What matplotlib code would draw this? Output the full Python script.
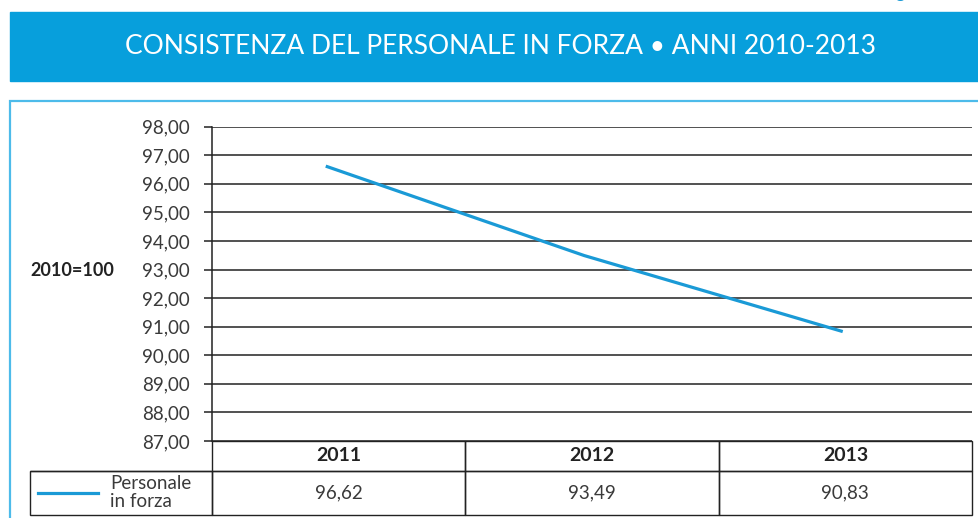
#!/usr/bin/env python3
"""
plot.py — consistenza del personale in forza, indice 2010=100
"""

import matplotlib
matplotlib.use('Agg')
import matplotlib.pyplot as plt
from matplotlib.patches import Rectangle
from matplotlib.ticker import FuncFormatter, MultipleLocator

# dati
YEARS = ['2011', '2012', '2013']
PERSONALE = [96.62, 93.49, 90.83]
SERIES_LABEL = 'Personale\nin forza'
TITLE = 'CONSISTENZA DEL PERSONALE IN FORZA \u2022 ANNI 2010-2013'
Y_LABEL = '2010=100'
Y_MIN, Y_MAX = 87, 98

BLUE_BANNER = '#079fdc'
BLUE_FRAME = '#4dbbea'
BLUE_LINE = '#1a9ad6'
DARK = '#222222'

W, H = 979, 518


def fx(px):
    return px / W


def fy(py):
    return 1 - py / H


def it(v):
    # formato italiano con virgola
    return f'{v:.2f}'.replace('.', ',')


def main():
    plt.rcParams['font.family'] = ['Lato', 'DejaVu Sans']

    fig = plt.figure(figsize=(W / 100, H / 100), dpi=100)

    # banda del titolo + cornice
    fig.patches.append(Rectangle((fx(10), fy(80.7)), 1, (80.7 - 12) / H,
                                 transform=fig.transFigure, color=BLUE_BANNER, zorder=0))
    fig.patches.append(Rectangle((fx(10), -0.1), 1, fy(101) + 0.1, transform=fig.transFigure,
                                 fill=False, edgecolor=BLUE_FRAME, linewidth=1.6, zorder=0))
    fig.text(fx(501), fy(46.5), TITLE, color='white', fontsize=19,
             ha='center', va='center')
    # pezzo di testo tagliato in alto a destra (come nell'originale)
    fig.text(fx(896), fy(-2), 'g', color=BLUE_LINE, fontsize=13, ha='left', va='baseline')

    ax_left, ax_right, ax_top, ax_bottom = 212, 972, 126.7, 441
    ax_w = ax_right - ax_left
    axes_h = ax_bottom - ax_top
    ax = fig.add_axes([fx(ax_left), fy(ax_bottom), fx(ax_w), axes_h / H])

    x = range(len(YEARS))
    ax.plot(list(x), PERSONALE, color=BLUE_LINE, linewidth=2.3, solid_capstyle='butt',
            zorder=3)

    ax.set_xlim(-0.44, 2.5)
    ax.set_ylim(Y_MIN, Y_MAX)
    ax.yaxis.set_major_locator(MultipleLocator(1))
    ax.yaxis.set_major_formatter(FuncFormatter(lambda v, _: it(v)))
    ax.set_xticks([])
    ax.grid(axis='y', color=DARK, linewidth=1.1)
    ax.set_axisbelow(True)
    for side in ('top', 'right', 'bottom'):
        ax.spines[side].set_visible(False)
    ax.spines['left'].set_color(DARK)
    ax.spines['left'].set_linewidth(1.1)
    ax.tick_params(axis='y', length=6, width=1.1, color=DARK, pad=10,
                   labelsize=13.5, labelcolor='#3a3a3a')

    fig.text(fx(30), fy(270), Y_LABEL, fontsize=13, fontweight='bold', color=DARK,
             ha='left', va='center')

    # tabella dati sotto il grafico (prima colonna = chiave della serie)
    label_w = ax_right - 30 - ax_w  # 30 -> 212 px
    col_w = ax_w / len(YEARS)
    table_h = (515 - ax_bottom) / axes_h
    tbl = ax.table(cellText=[[''] + [it(v) for v in PERSONALE]],
                   colLabels=[''] + YEARS,
                   colWidths=[label_w] + [col_w] * len(YEARS),
                   cellLoc='center',
                   bbox=[-label_w / ax_w, -table_h, (label_w + ax_w) / ax_w, table_h])
    tbl.auto_set_font_size(False)
    tbl.set_fontsize(13.5)
    for (row, col), cell in tbl.get_celld().items():
        cell.set_edgecolor(DARK)
        cell.set_linewidth(1.0)
        cell.set_facecolor('none')
        cell.set_height(470.7 - ax_bottom if row == 0 else 515 - 470.7)
        if row == 0:
            cell.get_text().set_fontweight('bold')
            cell.get_text().set_fontsize(14)
            cell.get_text().set_color(DARK)
        else:
            cell.get_text().set_color('#3a3a3a')
    tbl[0, 0].visible_edges = 'B'

    # chiave della serie
    ly = (ax_bottom - 492.7) / axes_h
    ax.plot([(38 - ax_left) / ax_w, (98 - ax_left) / ax_w], [ly, ly],
            transform=ax.transAxes, clip_on=False, color=BLUE_LINE, linewidth=2.3)
    ax.text((110 - ax_left) / ax_w, ly, SERIES_LABEL, transform=ax.transAxes,
            fontsize=13.5, color='#3a3a3a', ha='left', va='center', linespacing=1.05)

    fig.savefig('out.png', dpi=100)
    plt.close(fig)


if __name__ == '__main__':
    main()
